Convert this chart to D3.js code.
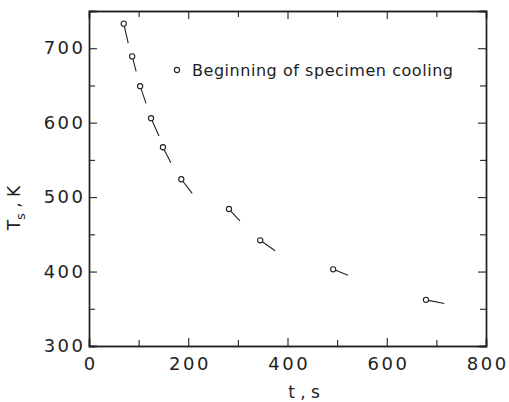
<!DOCTYPE html>
<html>
<head>
<meta charset="utf-8">
<script src="https://cdn.jsdelivr.net/npm/d3@7"></script>
<style>
  body { margin: 0; background: #fff; }
  svg text { font-family: "DejaVu Sans", sans-serif; fill: #222; }
</style>
</head>
<body>
<div id="chart"></div>
<script>
// start of each cooling run (circle) and end of its short tail
var tStart = [70, 87, 103, 125, 149, 186, 282, 345, 492, 679];
var TStart = [733, 689, 649, 606, 567, 524, 484, 442, 403, 362];
var tEnd = [79, 95, 115, 141, 165, 208, 304, 375, 522, 716];
var TEnd = [707, 669, 626, 582, 546, 505, 468, 428, 395, 357];

var xMajor = [0, 200, 400, 600, 800];
var xMinor = [100, 300, 500, 700];
var yMajor = [300, 400, 500, 600, 700];
var yMinor = [350, 450, 550, 650];

window.addEventListener('DOMContentLoaded', function () {
  drawChart();
});

function drawChart() {
  var w = 509, h = 402;
  var margin = { top: 11, right: 23, bottom: 56, left: 89 };

  var svg = d3.select("#chart")
    .append("svg")
    .attr("width", w)
    .attr("height", h);

  var x = d3.scaleLinear()
    .domain([0, 800])
    .range([margin.left, w - margin.right]);

  var y = d3.scaleLinear()
    .domain([300, 750])
    .range([h - margin.bottom, margin.top]);

  var x0 = x(0), x1 = x(800), y0 = y(300), y1 = y(750);

  // minor ticks first (no labels)
  svg.append("g")
    .attr("transform", "translate(0," + y0 + ")")
    .call(d3.axisBottom(x).tickValues(xMinor).tickSize(-6).tickFormat(""));
  svg.append("g")
    .attr("transform", "translate(0," + y1 + ")")
    .call(d3.axisTop(x).tickValues(xMinor).tickSize(-6).tickFormat(""));
  svg.append("g")
    .attr("transform", "translate(" + x0 + ",0)")
    .call(d3.axisLeft(y).tickValues(yMinor).tickSize(-6).tickFormat(""));
  svg.append("g")
    .attr("transform", "translate(" + x1 + ",0)")
    .call(d3.axisRight(y).tickValues(yMinor).tickSize(-6).tickFormat(""));

  // major ticks
  var gx = svg.append("g")
    .attr("class", "x-axis")
    .attr("transform", "translate(0," + y0 + ")")
    .call(d3.axisBottom(x).tickValues(xMajor).tickSize(-8).tickPadding(11).tickFormat(d3.format("d")));
  svg.append("g")
    .attr("transform", "translate(0," + y1 + ")")
    .call(d3.axisTop(x).tickValues(xMajor).tickSize(-8).tickFormat(""));
  var gy = svg.append("g")
    .attr("class", "y-axis")
    .attr("transform", "translate(" + x0 + ",0)")
    .call(d3.axisLeft(y).tickValues(yMajor).tickSize(-8).tickPadding(6).tickFormat(d3.format("d")));
  svg.append("g")
    .attr("transform", "translate(" + x1 + ",0)")
    .call(d3.axisRight(y).tickValues(yMajor).tickSize(-8).tickFormat(""));

  svg.selectAll(".domain")
    .attr("stroke", "#222")
    .attr("stroke-width", 1.4);
  svg.selectAll(".tick line")
    .attr("stroke", "#222")
    .attr("stroke-width", 1.1);

  svg.selectAll(".x-axis text, .y-axis text")
    .style("font-size", "18px")
    .style("letter-spacing", "2.5px")
    .attr("fill", "#222");
  // letter-spacing adds trailing space; nudge labels back into place
  gy.selectAll("text").attr("dx", "2.5px");
  gx.selectAll("text").attr("dx", "1.2px");

  // tails
  var idx = d3.range(tStart.length);
  svg.selectAll("line.tail")
    .data(idx)
    .enter()
    .append("line")
    .attr("class", "tail")
    .attr("x1", function (i) { return x(tStart[i]); })
    .attr("y1", function (i) { return y(TStart[i]); })
    .attr("x2", function (i) { return x(tEnd[i]); })
    .attr("y2", function (i) { return y(TEnd[i]); })
    .attr("stroke", "#222")
    .attr("stroke-width", 1.1);

  // start circles
  svg.selectAll("circle.start")
    .data(idx)
    .enter()
    .append("circle")
    .attr("class", "start")
    .attr("cx", function (i) { return x(tStart[i]); })
    .attr("cy", function (i) { return y(TStart[i]); })
    .attr("r", 2.6)
    .attr("fill", "#fff")
    .attr("stroke", "#222")
    .attr("stroke-width", 1.1);

  // legend
  svg.append("circle")
    .attr("cx", 177)
    .attr("cy", 70)
    .attr("r", 2.6)
    .attr("fill", "#fff")
    .attr("stroke", "#222")
    .attr("stroke-width", 1.1);
  svg.append("text")
    .attr("x", 192)
    .attr("y", 76)
    .attr("textLength", 261)
    .attr("lengthAdjust", "spacing")
    .style("font-size", "16px")
    .text("Beginning of specimen cooling");

  // axis titles
  svg.append("text")
    .attr("x", 304)
    .attr("y", 398)
    .attr("text-anchor", "middle")
    .style("font-size", "17px")
    .text("t , s");

  var yt = svg.append("text")
    .attr("transform", "translate(20,208) rotate(-90)")
    .attr("text-anchor", "middle")
    .style("font-size", "17px");
  yt.append("tspan").text("T");
  yt.append("tspan").attr("dy", "5").style("font-size", "13px").text("s");
  yt.append("tspan").attr("dy", "-5").text(" , K");
}
</script>
</body>
</html>
